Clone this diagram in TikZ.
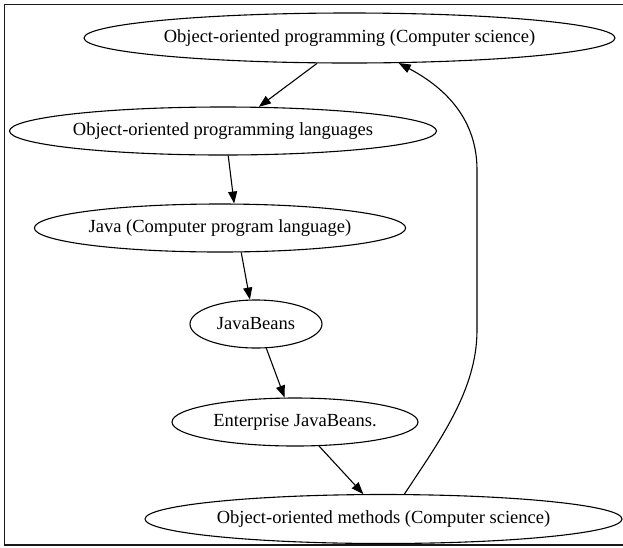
\documentclass[tikz,border=0pt]{standalone}
\usepackage{fontspec}
\setmainfont{Liberation Serif}
\usetikzlibrary{arrows.meta,shapes.geometric}
\begin{document}
\begin{tikzpicture}[x=1pt,y=1pt,
  topic/.style={draw, ellipse, line width=1.1pt, inner sep=0pt,
    font=\fontsize{18.5}{20}\selectfont},
  link/.style={line width=1.1pt, -{Triangle[length=12pt,width=9pt]}}]
\useasboundingbox (0,0) rectangle (623,-547);
% partial frame: left, top and bottom edges
\draw[line width=1.6pt, black!90] (623,-4.5) -- (4.5,-4.5) -- (4.5,-545) -- (623,-545);

\node[topic, minimum width=531pt, minimum height=50pt] (oop) at (349.5,-38) {Object-oriented programming (Computer science)};
\node[topic, minimum width=427pt, minimum height=48pt] (lang) at (223,-131) {Object-oriented programming languages};
\node[topic, minimum width=360pt, minimum height=48pt] (java) at (220,-228) {Java (Computer program language)};
\node[topic, minimum width=132pt, minimum height=48pt] (beans) at (256,-324) {JavaBeans};
\node[topic, minimum width=246pt, minimum height=48pt] (ejb) at (295,-422) {Enterprise JavaBeans.};
\node[topic, minimum width=477pt, minimum height=49pt] (meth) at (383.5,-519) {Object-oriented methods (Computer science)};

\draw[link] (oop.218) -- (lang.34);
\draw[link] (lang.282) -- (java.60);
\draw[link] (java.311) -- (beans.104);
\draw[link] (beans.293) -- (ejb.113);
\draw[link] (ejb.315) -- (meth.129);
\draw[link] (meth.50) .. controls (440,-440) and (477,-390) .. (477,-330)
  -- (477,-170) .. controls (477,-115) and (440,-85) .. (oop.333);
\end{tikzpicture}
\end{document}
